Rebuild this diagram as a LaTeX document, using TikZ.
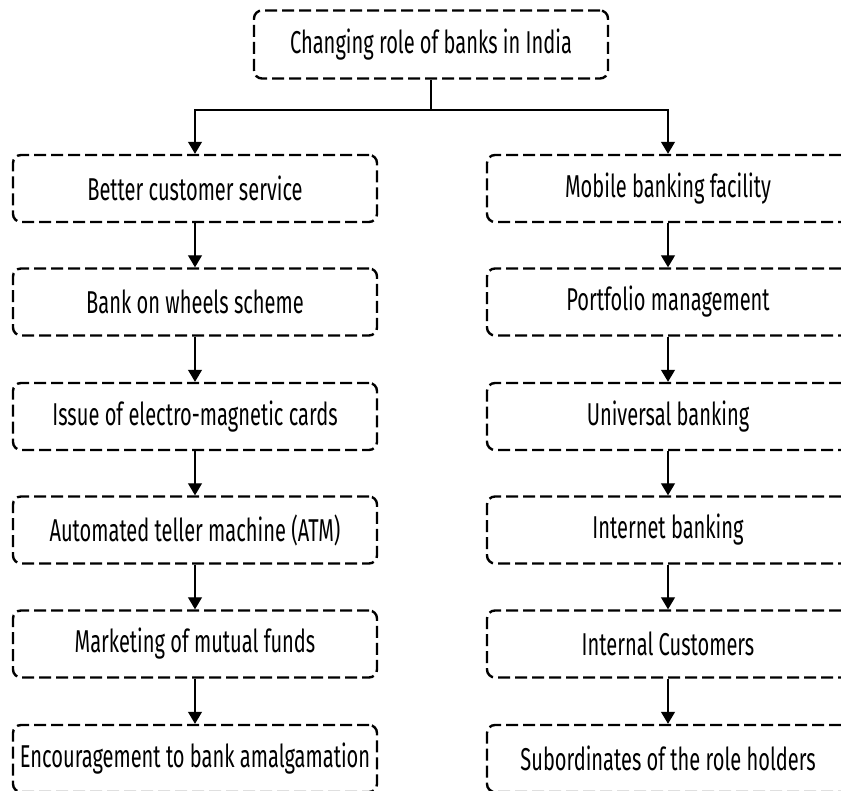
\documentclass[tikz,border=0pt]{standalone}
\usepackage{fontspec}
\setmainfont{Fira Sans}[FakeStretch=0.635]
\usetikzlibrary{arrows.meta}

\tikzset{
	rolebox/.style={draw, line width=1.2pt, dash pattern=on 6pt off 2.5pt,
		rounded corners=4pt, inner sep=0pt, minimum height=33.5pt,
		font=\fontsize{15.8}{18}\selectfont},
	leftbox/.style={rolebox, minimum width=182pt},
	rightbox/.style={rolebox, minimum width=181pt},
	flow/.style={-{Triangle[length=6pt,width=7pt]}, line width=0.65pt},
}

\begin{document}
\begin{tikzpicture}[x=0.5pt,y=0.5pt]
	\useasboundingbox (0,0) rectangle (841,791);
	\node[rolebox, minimum width=177pt, minimum height=34pt] (top) at (431,746.5) {Changing role of banks in India};
	\coordinate (split) at (431,681);

	\node[leftbox] (l1) at (195,602.5) {Better customer service};
	\node[leftbox] (l2) at (195,489) {Bank on wheels scheme};
	\node[leftbox] (l3) at (195,374.5) {Issue of electro-magnetic cards};
	\node[leftbox] (l4) at (195,261) {Automated teller machine (ATM)};
	\node[leftbox] (l5) at (195,147) {Marketing of mutual funds};
	\node[leftbox] (l6) at (195,32.5) {Encouragement to bank amalgamation};

	\node[rightbox] (r1) at (668,602.5) {Mobile banking facility};
	\node[rightbox] (r2) at (668,489) {Portfolio management};
	\node[rightbox] (r3) at (668,374.5) {Universal banking};
	\node[rightbox] (r4) at (668,261) {Internet banking};
	\node[rightbox] (r5) at (668,147) {Internal Customers};
	\node[rightbox] (r6) at (668,32.5) {Subordinates of the role holders};

	\draw[line width=0.65pt] (top.south) -- (split);
	\draw[flow] (split) -| (l1.north);
	\draw[flow] (split) -| (r1.north);
	\foreach \a/\b in {1/2,2/3,3/4,4/5,5/6} {
		\draw[flow] (l\a.south) -- (l\b.north);
		\draw[flow] (r\a.south) -- (r\b.north);
	}
\end{tikzpicture}
\end{document}
